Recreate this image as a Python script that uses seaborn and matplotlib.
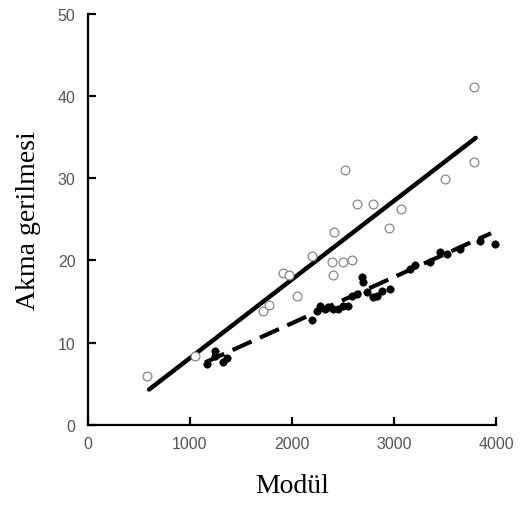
import numpy as np
import pandas as pd
import matplotlib
matplotlib.use("Agg")
import matplotlib.pyplot as plt
import seaborn as sns

# open circles
acik_x = [575, 1049, 1712, 1778, 1908, 1974, 2052, 2193, 2389, 2398, 2415, 2503,
          2585, 2634, 2797, 2954, 3069, 2520, 3500, 3787, 3787]
acik_y = [6.0, 8.4, 13.8, 14.6, 18.5, 18.2, 15.7, 20.5, 19.8, 18.2, 23.5, 19.8,
          20.0, 26.9, 26.9, 23.9, 26.2, 31.0, 29.9, 32.0, 41.1]

# filled dots
dolu_x = [1163, 1245, 1245, 1327, 1360, 2193, 2242, 2275, 2324, 2356, 2405, 2454,
          2503, 2550, 2585, 2634, 2683, 2700, 2732, 2797, 2830, 2879, 2961, 3157,
          3206, 3353, 3451, 3516, 3647, 3843, 3990]
dolu_y = [7.4, 8.4, 9.0, 7.6, 8.1, 12.7, 13.9, 14.5, 14.1, 14.3, 14.1, 14.1,
          14.5, 14.5, 15.7, 15.9, 18.0, 17.4, 16.1, 15.5, 15.7, 16.3, 16.5, 19.0,
          19.4, 19.8, 21.0, 20.8, 21.4, 22.4, 22.0]

# fitted lines (endpoints)
fit1_x = [600, 3800]
fit1_y = [4.3, 34.9]
fit2_x = [1150, 3950]
fit2_y = [7.6, 23.3]

sns.set_style("ticks")
plt.rcParams["font.family"] = ["Liberation Sans", "DejaVu Sans"]

fig = plt.figure(figsize=(5.2, 5.1), dpi=100)
ax = fig.add_axes([0.169, 0.165, 0.785, 0.806])

sns.lineplot(x=fit1_x, y=fit1_y, ax=ax, color="black", linewidth=3.2)
sns.lineplot(x=fit2_x, y=fit2_y, ax=ax, color="black", linewidth=3.0,
             dashes=False, linestyle=(0, (5, 2.2)))
sns.scatterplot(x=acik_x, y=acik_y, ax=ax, marker="o", s=40,
                facecolor="white", edgecolor="#888888", linewidth=0.9, zorder=3)
sns.scatterplot(x=dolu_x, y=dolu_y, ax=ax, marker="o", s=28,
                color="black", edgecolor="black", linewidth=0.5, zorder=4)

ax.set_xlim(0, 4000)
ax.set_ylim(0, 50)
ax.set_xticks([0, 1000, 2000, 3000, 4000])
ax.set_yticks([0, 10, 20, 30, 40, 50])
sns.despine(ax=ax)
for s in ["left", "bottom"]:
    ax.spines[s].set_linewidth(1.6)
    ax.spines[s].set_color("black")
ax.tick_params(direction="in", length=6, width=1.6, labelsize=11.5,
               color="black", labelcolor="#555555")
ax.tick_params(axis="y", pad=9)
ax.tick_params(axis="x", pad=8)
for c in ax.collections + ax.lines:
    c.set_clip_on(False)

ax.set_xlabel("Modül", fontsize=20, family="Liberation Serif", color="black",
              labelpad=16)
ax.set_ylabel("Akma gerilmesi", fontsize=20, family="Liberation Serif",
              color="black", labelpad=12)

fig.savefig("out.png", dpi=100)
